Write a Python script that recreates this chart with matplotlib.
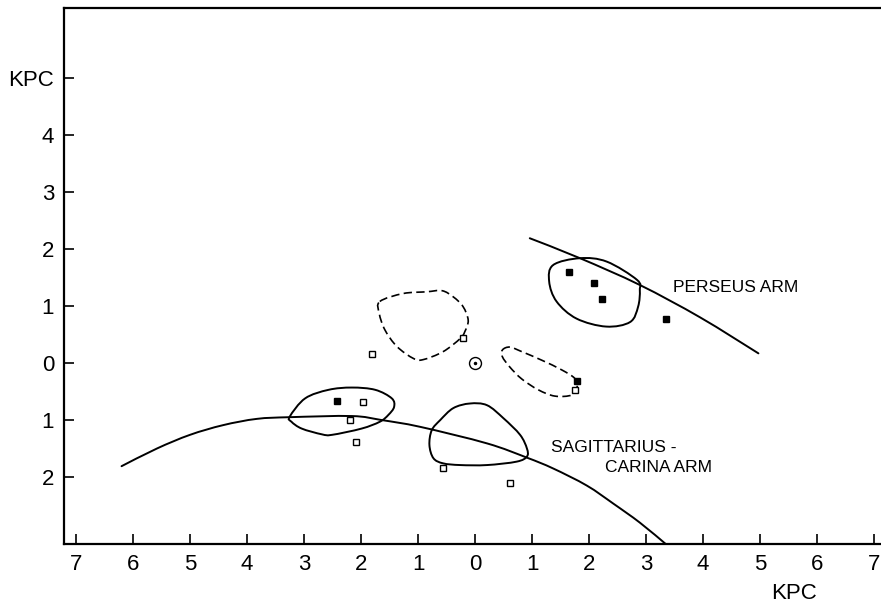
import numpy as np
import matplotlib
matplotlib.use("Agg")
import matplotlib.pyplot as plt
from matplotlib.path import Path
from matplotlib.patches import PathPatch

plt.rcParams['font.family'] = ['Liberation Sans', 'DejaVu Sans']

# ---------------- data (kpc) ----------------
x_ticks = list(range(-7, 8))
x_tick_labels = [str(abs(v)) for v in x_ticks]
y_ticks = list(range(-2, 6))
y_tick_labels = ['2', '1', '0', '1', '2', '3', '4', 'KPC']

filled_x = [1.65, 2.08, 2.23, 3.35, 1.78, -2.42]
filled_y = [1.59, 1.40, 1.12, 0.77, -0.32, -0.67]

open_x = [-0.22, -1.80, 1.75, -1.97, -2.19, -2.09, -0.56, 0.62]
open_y = [0.44, 0.16, -0.48, -0.68, -1.00, -1.39, -1.84, -2.11]

sun_x = [0.0]
sun_y = [0.0]

perseus_x = [0.96, 1.84, 2.89, 3.95, 4.97]
perseus_y = [2.19, 1.84, 1.37, 0.80, 0.17]

sag_x = [-6.20, -5.58, -5.00, -4.42, -3.83, -3.25, -2.16, -1.64, -0.96,
         0.21, 0.91, 1.37, 1.96, 2.43, 2.89, 3.35]
sag_y = [-1.81, -1.50, -1.26, -1.09, -0.98, -0.95, -0.93, -1.00, -1.12,
         -1.41, -1.66, -1.85, -2.15, -2.47, -2.80, -3.18]

# solid contours
blob_perseus_x = [1.37, 1.84, 2.31, 2.84, 2.89, 2.86, 2.72, 2.30, 1.78, 1.43, 1.30]
blob_perseus_y = [1.72, 1.84, 1.78, 1.46, 1.28, 0.99, 0.72, 0.64, 0.78, 1.08, 1.43]

blob_left_x = [-3.25, -2.98, -2.57, -2.16, -1.75, -1.46, -1.42, -1.52, -1.67,
               -1.99, -2.51, -2.69, -3.04, -3.22]
blob_left_y = [-0.94, -0.62, -0.47, -0.43, -0.47, -0.62, -0.77, -0.91, -1.03,
               -1.15, -1.26, -1.25, -1.15, -1.03]

blob_mid_x = [-0.09, 0.21, 0.50, 0.79, 0.91, 0.91, 0.73, 0.21, -0.26, -0.56,
              -0.73, -0.80, -0.76, -0.61, -0.38]
blob_mid_y = [-0.71, -0.74, -0.97, -1.26, -1.50, -1.64, -1.73, -1.79, -1.79,
              -1.76, -1.67, -1.44, -1.18, -1.00, -0.79]

# dashed contours
dash_upper_x = [-1.67, -1.26, -0.85, -0.58, -0.38, -0.21, -0.12, -0.18, -0.26,
                -0.56, -0.91, -1.08, -1.37, -1.58, -1.68]
dash_upper_y = [1.08, 1.22, 1.25, 1.27, 1.16, 0.99, 0.75, 0.55, 0.43,
                0.20, 0.06, 0.08, 0.29, 0.58, 0.87]

dash_long_x = [0.48, 0.61, 0.82, 1.17, 1.52, 1.75, 1.79, 1.70, 1.40, 1.11, 0.82, 0.61, 0.48]
dash_long_y = [0.23, 0.28, 0.20, 0.05, -0.12, -0.27, -0.42, -0.56, -0.58, -0.47, -0.28, -0.07, 0.11]


def smooth_path(xs, ys, closed):
    P = np.column_stack([xs, ys]).astype(float)
    n = len(P)
    if closed:
        get = lambda i: P[i % n]
        segs = n
    else:
        get = lambda i: P[min(max(i, 0), n - 1)]
        segs = n - 1
    verts = [P[0]]
    codes = [Path.MOVETO]
    for i in range(segs):
        p0, p1, p2, p3 = get(i - 1), get(i), get(i + 1), get(i + 2)
        c1 = p1 + (p2 - p0) / 6.0
        c2 = p2 - (p3 - p1) / 6.0
        verts += [c1, c2, p2]
        codes += [Path.CURVE4] * 3
    return Path(verts, codes)


fig = plt.figure(figsize=(8.81, 6.08), dpi=100)
ax = fig.add_axes([0.0726, 0.1053, 0.9274, 0.8815])
ax.set_xlim(-7.21, 7.12)
ax.set_ylim(-3.175, 6.23)

lw = 1.4
for xs, ys in [(perseus_x, perseus_y), (sag_x, sag_y)]:
    ax.add_patch(PathPatch(smooth_path(xs, ys, False), fill=False, lw=lw,
                           ec='black', capstyle='round'))

for xs, ys in [(blob_perseus_x, blob_perseus_y), (blob_left_x, blob_left_y),
               (blob_mid_x, blob_mid_y)]:
    ax.add_patch(PathPatch(smooth_path(xs, ys, True), fill=False, lw=lw, ec='black'))

for xs, ys in [(dash_upper_x, dash_upper_y), (dash_long_x, dash_long_y)]:
    ax.add_patch(PathPatch(smooth_path(xs, ys, True), fill=False, lw=1.2, ec='black',
                           linestyle=(0, (5, 2.6))))

ax.plot(filled_x, filled_y, 's', ms=5, mfc='black', mec='black', ls='none', zorder=5)
ax.plot(open_x, open_y, 's', ms=4.5, mfc='white', mec='black', mew=1.0, ls='none', zorder=5)
ax.plot(sun_x, sun_y, 'o', ms=8.6, mfc='white', mec='black', mew=1.0, ls='none', zorder=5)
ax.plot(sun_x, sun_y, 'o', ms=1.5, mfc='black', mec='black', ls='none', zorder=6)

ax.text(3.47, 1.33, 'PERSEUS ARM', fontsize=12.5, ha='left', va='center')
ax.text(1.33, -1.49, 'SAGITTARIUS -', fontsize=12.5, ha='left', va='center')
ax.text(2.28, -1.83, 'CARINA ARM', fontsize=12.5, ha='left', va='center')
ax.text(5.6, -4.05, 'KPC', fontsize=16, ha='center', va='center', clip_on=False)

ax.set_xticks(x_ticks)
ax.set_xticklabels(x_tick_labels)
ax.set_yticks(y_ticks)
ax.set_yticklabels(y_tick_labels)
ax.tick_params(direction='in', length=7, width=1.2, labelsize=16, pad=7)

ax.spines['right'].set_visible(False)
for s in ['left', 'bottom', 'top']:
    ax.spines[s].set_linewidth(1.6)

fig.savefig('out.png', dpi=100)
